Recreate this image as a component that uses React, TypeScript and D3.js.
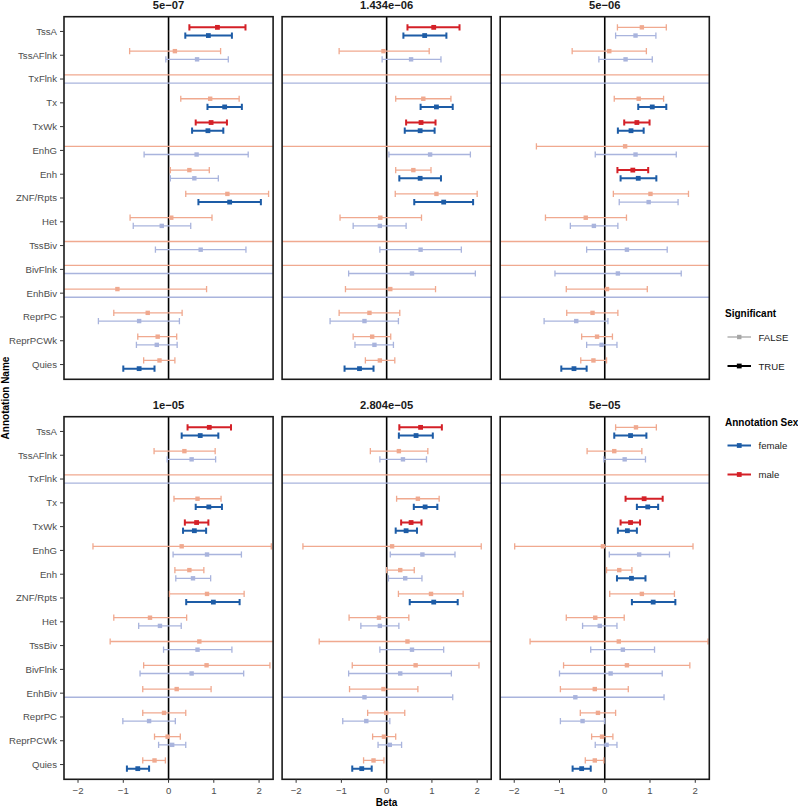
import React from "react";
import * as d3 from "d3";

const INF = Infinity;

const categories = ["TssA", "TssAFlnk", "TxFlnk", "Tx", "TxWk", "EnhG", "Enh", "ZNF/Rpts", "Het", "TssBiv", "BivFlnk", "EnhBiv", "ReprPC", "ReprPCWk", "Quies"];
const thresholds = ["5e\u221207", "1.434e\u221206", "5e\u221206", "1e\u221205", "2.804e\u221205", "5e\u221205"];
const xTicks = [-2, -1, 0, 1, 2];

// male series, one row per panel
const maleEst = [
  [1.08, 0.14, null, 0.92, 0.94, null, 0.46, 1.30, 0.06, null, null, -1.13, -0.46, -0.24, -0.20],
  [1.04, -0.07, null, 0.81, 0.76, null, 0.59, 1.10, -0.14, null, null, 0.08, -0.38, -0.32, -0.15],
  [0.82, 0.10, null, 0.75, 0.71, 0.45, 0.62, 1.01, -0.42, null, null, 0.05, -0.27, -0.17, -0.25],
  [0.90, 0.35, null, 0.64, 0.62, 0.29, 0.46, 0.85, -0.41, 0.68, 0.84, 0.18, -0.10, -0.02, -0.31],
  [0.75, 0.27, null, 0.69, 0.54, 0.12, 0.30, 0.98, -0.17, 0.46, 0.64, -0.07, -0.01, -0.06, -0.29],
  [0.69, 0.21, null, 0.87, 0.57, -0.04, 0.32, 0.82, -0.21, 0.31, 0.49, -0.22, -0.15, -0.06, -0.22],
];
const maleLo = [
  [0.46, -0.86, -INF, 0.27, 0.60, -INF, 0.04, 0.38, -0.85, -INF, -INF, -3.1, -1.21, -0.68, -0.55],
  [0.46, -1.05, -INF, 0.20, 0.43, -INF, 0.20, 0.19, -1.03, -INF, -INF, -0.91, -1.05, -0.74, -0.47],
  [0.28, -0.72, -INF, 0.21, 0.43, -1.51, 0.28, 0.19, -1.31, -INF, -INF, -0.85, -0.84, -0.51, -0.53],
  [0.42, -0.32, -INF, 0.12, 0.36, -1.67, 0.14, 0.02, -1.21, -1.29, -0.55, -0.57, -0.57, -0.31, -0.57],
  [0.28, -0.36, -INF, 0.22, 0.32, -1.85, 0.00, 0.26, -0.83, -1.49, -0.76, -0.82, -0.42, -0.31, -0.51],
  [0.24, -0.39, -INF, 0.46, 0.35, -1.99, 0.04, 0.11, -0.85, -1.65, -0.91, -0.98, -0.54, -0.29, -0.43],
];
const maleHi = [
  [1.70, 1.15, INF, 1.56, 1.29, INF, 0.90, 2.21, 0.96, INF, INF, 0.84, 0.30, 0.18, 0.14],
  [1.61, 0.94, INF, 1.42, 1.08, INF, 0.98, 2.00, 0.77, INF, INF, 1.08, 0.29, 0.09, 0.18],
  [1.36, 0.92, INF, 1.30, 0.99, 2.41, 0.96, 1.85, 0.48, INF, INF, 0.94, 0.29, 0.17, 0.04],
  [1.38, 1.03, INF, 1.16, 0.88, 2.27, 0.78, 1.67, 0.40, 2.65, 2.24, 0.94, 0.38, 0.26, -0.07],
  [1.22, 0.91, INF, 1.16, 0.77, 2.09, 0.61, 1.69, 0.49, 2.41, 2.04, 0.69, 0.40, 0.20, -0.06],
  [1.14, 0.82, INF, 1.28, 0.78, 1.95, 0.60, 1.54, 0.43, 2.28, 1.88, 0.52, 0.24, 0.18, -0.02],
];
const maleSig = [
  [1, 0, 0, 0, 1, 0, 0, 0, 0, 0, 0, 0, 0, 0, 0],
  [1, 0, 0, 0, 1, 0, 0, 0, 0, 0, 0, 0, 0, 0, 0],
  [0, 0, 0, 0, 1, 0, 1, 0, 0, 0, 0, 0, 0, 0, 0],
  [1, 0, 0, 0, 1, 0, 0, 0, 0, 0, 0, 0, 0, 0, 0],
  [1, 0, 0, 0, 1, 0, 0, 0, 0, 0, 0, 0, 0, 0, 0],
  [0, 0, 0, 1, 1, 0, 0, 0, 0, 0, 0, 0, 0, 0, 0],
];

// female series, one row per panel
const femaleEst = [
  [0.88, 0.63, null, 1.24, 0.87, 0.62, 0.57, 1.35, -0.15, 0.71, null, null, -0.65, -0.26, -0.65],
  [0.84, 0.54, null, 1.10, 0.74, 0.96, 0.74, 1.26, -0.15, 0.75, 0.56, null, -0.49, -0.27, -0.60],
  [0.68, 0.46, null, 1.05, 0.58, 0.68, 0.74, 0.97, -0.24, 0.49, 0.29, null, -0.63, -0.07, -0.68],
  [0.70, 0.51, null, 0.89, 0.57, 0.85, 0.54, 0.99, -0.19, 0.64, 0.51, null, -0.43, 0.08, -0.68],
  [0.65, 0.36, null, 0.85, 0.43, 0.79, 0.41, 1.04, -0.15, 0.56, 0.30, -0.49, -0.45, 0.07, -0.55],
  [0.57, 0.44, null, 0.95, 0.50, 0.76, 0.59, 1.07, -0.11, 0.40, 0.13, -0.65, -0.49, 0.04, -0.51],
];
const femaleLo = [
  [0.37, -0.06, -INF, 0.86, 0.52, -0.54, 0.04, 0.66, -0.78, -0.29, -INF, -INF, -1.55, -0.71, -1.00],
  [0.37, -0.10, -INF, 0.75, 0.40, 0.05, 0.28, 0.61, -0.74, -0.15, -0.84, -INF, -1.25, -0.70, -0.93],
  [0.24, -0.13, -INF, 0.74, 0.29, -0.21, 0.35, 0.32, -0.76, -0.40, -1.10, -INF, -1.34, -0.40, -0.96],
  [0.29, -0.03, -INF, 0.60, 0.32, 0.10, 0.16, 0.39, -0.66, -0.11, -0.63, -INF, -1.01, -0.22, -0.92],
  [0.27, -0.15, -INF, 0.60, 0.20, 0.08, 0.04, 0.51, -0.57, -0.15, -0.84, -2.44, -0.97, -0.19, -0.76],
  [0.21, -0.02, -INF, 0.71, 0.29, 0.10, 0.27, 0.60, -0.49, -0.31, -1.00, -2.61, -0.98, -0.21, -0.71],
];
const femaleHi = [
  [1.40, 1.32, INF, 1.62, 1.21, 1.76, 1.10, 2.04, 0.49, 1.71, INF, INF, 0.24, 0.19, -0.31],
  [1.32, 1.20, INF, 1.46, 1.06, 1.85, 1.20, 1.91, 0.43, 1.65, 1.96, INF, 0.26, 0.15, -0.29],
  [1.13, 1.05, INF, 1.36, 0.86, 1.58, 1.14, 1.62, 0.29, 1.38, 1.69, INF, 0.07, 0.27, -0.40],
  [1.10, 1.04, INF, 1.18, 0.83, 1.61, 0.93, 1.57, 0.28, 1.40, 1.66, INF, 0.15, 0.38, -0.43],
  [1.02, 0.88, INF, 1.12, 0.67, 1.51, 0.78, 1.57, 0.27, 1.26, 1.43, 1.46, 0.07, 0.33, -0.33],
  [0.92, 0.90, INF, 1.18, 0.71, 1.43, 0.90, 1.56, 0.27, 1.10, 1.27, 1.31, 0.00, 0.27, -0.31],
];
const femaleSig = [
  [1, 0, 0, 1, 1, 0, 0, 1, 0, 0, 0, 0, 0, 0, 1],
  [1, 0, 0, 1, 1, 0, 1, 1, 0, 0, 0, 0, 0, 0, 1],
  [0, 0, 0, 1, 1, 0, 1, 0, 0, 0, 0, 0, 0, 0, 1],
  [1, 0, 0, 1, 1, 0, 0, 1, 0, 0, 0, 0, 0, 0, 1],
  [1, 0, 0, 1, 1, 0, 0, 1, 0, 0, 0, 0, 0, 0, 1],
  [1, 0, 0, 1, 1, 0, 1, 1, 0, 0, 0, 0, 0, 0, 1],
];

const COLORS = {
  male: { sig: "#D42027", ns: "#F0A98F" },
  female: { sig: "#1D5CA6", ns: "#A9B4DD" },
};

const FONT = "'Liberation Sans', Arial, Helvetica, sans-serif";
const W = 798;
const H = 808;
const panelLefts = [64, 282.1, 500.2];
const panelW = 209.1;
const panelTops = [16.7, 416.7];
const panelH = 362.6;

function Series({ est, lo, hi, sig, colors, offset, x, y }: any) {
  return (
    <g>
      {categories.map((c, i) => {
        const s = sig[i] === 1;
        const col = s ? colors.sig : colors.ns;
        const cy = (y(c) as number) + offset;
        const xl = isFinite(lo[i]) ? x(lo[i]) : x.range()[0] - 20;
        const xh = isFinite(hi[i]) ? x(hi[i]) : x.range()[1] + 20;
        const sw = s ? 2 : 1.3;
        const sq = s ? 4.8 : 4.4;
        return (
          <g key={c}>
            <line x1={xl} x2={xh} y1={cy} y2={cy} stroke={col} strokeWidth={sw} />
            {isFinite(lo[i]) && <line x1={xl} x2={xl} y1={cy - 3.1} y2={cy + 3.1} stroke={col} strokeWidth={sw} />}
            {isFinite(hi[i]) && <line x1={xh} x2={xh} y1={cy - 3.1} y2={cy + 3.1} stroke={col} strokeWidth={sw} />}
            {est[i] !== null && <rect x={x(est[i]) - sq / 2} y={cy - sq / 2} width={sq} height={sq} fill={col} />}
          </g>
        );
      })}
    </g>
  );
}

export default function App() {
  const panels = thresholds.map((t, p) => {
    const row = Math.floor(p / 3);
    const col = p % 3;
    const left = panelLefts[col];
    const top = panelTops[row];
    const x = d3.scaleLinear().domain([-2.31, 2.31]).range([left, left + panelW]);
    const y = d3.scalePoint<string>().domain(categories).range([top, top + panelH]).padding(0.62);
    return { t, p, row, col, left, top, x, y };
  });

  return (
    <svg width={W} height={H} style={{ position: "absolute", left: 0, top: 0, fontFamily: FONT }}>
      <rect x={0} y={0} width={W} height={H} fill="#fff" />
      <defs>
        {panels.map((pn) => (
          <clipPath id={`clip${pn.p}`} key={pn.p}>
            <rect x={pn.left} y={pn.top} width={panelW} height={panelH} />
          </clipPath>
        ))}
      </defs>
      {panels.map((pn) => {
        const { x, y, left, top, p, row, col } = pn;
        return (
          <g key={p}>
            <text x={left + panelW / 2} y={top - 8} textAnchor="middle" fontSize={11.2} fontWeight="bold" fill="#1a1a1a">
              {pn.t}
            </text>
            <g clipPath={`url(#clip${p})`}>
              <line x1={x(0)} x2={x(0)} y1={top} y2={top + panelH} stroke="#000" strokeWidth={1.6} />
              <Series est={maleEst[p]} lo={maleLo[p]} hi={maleHi[p]} sig={maleSig[p]} colors={COLORS.male} offset={-4.1} x={x} y={y} />
              <Series est={femaleEst[p]} lo={femaleLo[p]} hi={femaleHi[p]} sig={femaleSig[p]} colors={COLORS.female} offset={4.1} x={x} y={y} />
            </g>
            <rect x={left} y={top} width={panelW} height={panelH} fill="none" stroke="#1a1a1a" strokeWidth={1.6} />
            {col === 0 &&
              categories.map((c) => (
                <g key={c}>
                  <line x1={left - 4} x2={left} y1={y(c)} y2={y(c)} stroke="#333" strokeWidth={1} />
                  <text x={left - 7} y={(y(c) as number) + 3.4} textAnchor="end" fontSize={9.6} fill="#4d4d4d">
                    {c}
                  </text>
                </g>
              ))}
            {row === 1 &&
              xTicks.map((v) => (
                <g key={v}>
                  <line x1={x(v)} x2={x(v)} y1={top + panelH} y2={top + panelH + 3.5} stroke="#333" strokeWidth={1} />
                  <text x={x(v)} y={top + panelH + 14.5} textAnchor="middle" fontSize={9.6} fill="#4d4d4d">
                    {v < 0 ? `\u2212${Math.abs(v)}` : v}
                  </text>
                </g>
              ))}
          </g>
        );
      })}
      {/* axis titles */}
      <text x={386.5} y={806} textAnchor="middle" fontSize={10} fontWeight="bold" fill="#000">Beta</text>
      <text transform="translate(9,398) rotate(-90)" textAnchor="middle" fontSize={10} fontWeight="bold" fill="#000">Annotation Name</text>

      {/* legend: Significant */}
      <text x={725} y={316.8} fontSize={10} fontWeight="bold" fill="#000">Significant</text>
      {[{ label: "FALSE", col: "#A6A6A6", sw: 1.3, sq: 4.4, cy: 337 }, { label: "TRUE", col: "#000", sw: 2, sq: 4.8, cy: 366 }].map((k) => (
        <g key={k.label}>
          <line x1={727.5} x2={751} y1={k.cy} y2={k.cy} stroke={k.col} strokeWidth={k.sw} />
          <rect x={739.25 - k.sq / 2} y={k.cy - k.sq / 2} width={k.sq} height={k.sq} fill={k.col} />
          <text x={758.5} y={k.cy + 3.5} fontSize={9.6} fill="#1a1a1a">{k.label}</text>
        </g>
      ))}
      {/* legend: Annotation Sex */}
      <text x={725} y={425.8} fontSize={10} fontWeight="bold" fill="#000">Annotation Sex</text>
      {[{ label: "female", col: COLORS.female.sig, cy: 445.5 }, { label: "male", col: COLORS.male.sig, cy: 474.5 }].map((k) => (
        <g key={k.label}>
          <line x1={727.5} x2={751} y1={k.cy} y2={k.cy} stroke={k.col} strokeWidth={2} />
          <rect x={739.25 - 2.4} y={k.cy - 2.4} width={4.8} height={4.8} fill={k.col} />
          <text x={758.5} y={k.cy + 3.5} fontSize={9.6} fill="#1a1a1a">{k.label}</text>
        </g>
      ))}
    </svg>
  );
}
